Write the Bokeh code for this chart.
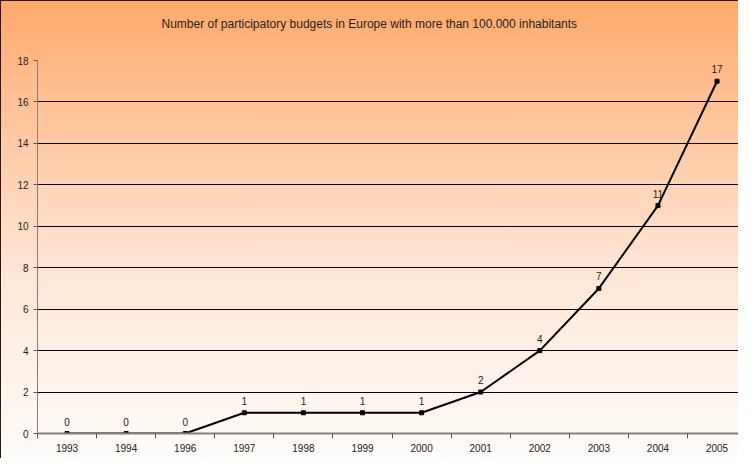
from bokeh.plotting import figure
from bokeh.models import ColumnDataSource, FixedTicker, LabelSet, Title
from bokeh.core.properties import value
from bokeh.embed import file_html
from bokeh.resources import INLINE

years = ["1993", "1994", "1996", "1997", "1998", "1999", "2000", "2001", "2002", "2003", "2004", "2005"]
budgets = [0, 0, 0, 1, 1, 1, 1, 2, 4, 7, 11, 17]
y_ticks = [0, 2, 4, 6, 8, 10, 12, 14, 16, 18]
title_text = "Number of participatory budgets in Europe with more than 100.000 inhabitants"

xpos = [i + 0.5 for i in range(len(years))]
src = ColumnDataSource(dict(x=xpos, y=budgets, lab=[str(v) for v in budgets]))

FONT = "Liberation Sans"

p = figure(width=738, height=458, output_backend="svg", toolbar_location=None,
           x_range=(0, 11.88), y_range=(0, 18),
           min_border_left=36, min_border_right=0, min_border_top=59, min_border_bottom=26)
p.border_fill_color = None
p.background_fill_color = None
p.outline_line_color = None
p.styles = {"background-image": "linear-gradient(#FFA86A, #FFBF92 20%, #FFE6D6 60%, #FFFCFA)",
            "border-left": "1px solid #2a1a0a", "border-top": "1px solid #2a1a0a"}

title_style = dict(text=title_text, align="left", offset=124,
                   text_font=FONT, text_font_size="12px", text_font_style="normal",
                   text_color="#222222")
try:
    ttl = Title(standoff=0, padding=dict(left=0, right=0, top=0, bottom=30), **title_style)
except Exception:
    ttl = Title(standoff=44, **title_style)
p.add_layout(ttl, "above")

p.line("x", "y", source=src, line_color="black", line_width=2)
p.scatter("x", "y", source=src, marker="square", size=4, color="black")

labels = LabelSet(x="x", y="y", text="lab", source=src, y_offset=8,
                  text_align="center", text_baseline="bottom",
                  text_font=value(FONT), text_font_size="10px", text_color="#222222")
p.add_layout(labels)

# x axis: labels at category centres, ticks at category boundaries
p.xaxis.ticker = FixedTicker(ticks=xpos, minor_ticks=list(range(len(years) + 1)))
p.xaxis.major_label_overrides = {x: y for x, y in zip(xpos, years)}
p.xaxis.major_tick_out = 0
p.xaxis.major_tick_in = 0
p.xaxis.minor_tick_out = 5
p.xaxis.minor_tick_in = 0
p.xaxis.minor_tick_line_color = "#555555"
p.xaxis.axis_line_color = "#808080"
p.xaxis.axis_line_width = 2
p.xaxis.major_label_standoff = 5
p.xaxis.major_label_text_font = FONT
p.xaxis.major_label_text_font_size = "10px"
p.xaxis.major_label_text_color = "#222222"

p.yaxis.ticker = FixedTicker(ticks=y_ticks)
p.yaxis.major_tick_out = 4
p.yaxis.major_tick_in = 0
p.yaxis.minor_tick_out = 0
p.yaxis.minor_tick_in = 0
p.yaxis.major_tick_line_color = "#555555"
p.yaxis.axis_line_color = "#808080"
p.yaxis.axis_line_width = 1
p.yaxis.major_label_standoff = 5
p.yaxis.major_label_text_font = FONT
p.yaxis.major_label_text_font_size = "10px"
p.yaxis.major_label_text_color = "#222222"

p.xgrid.grid_line_color = None
p.ygrid.ticker = FixedTicker(ticks=y_ticks)
p.ygrid.grid_line_color = "black"
p.ygrid.grid_line_width = 1

open("out.html", "w").write(file_html(p, INLINE))
